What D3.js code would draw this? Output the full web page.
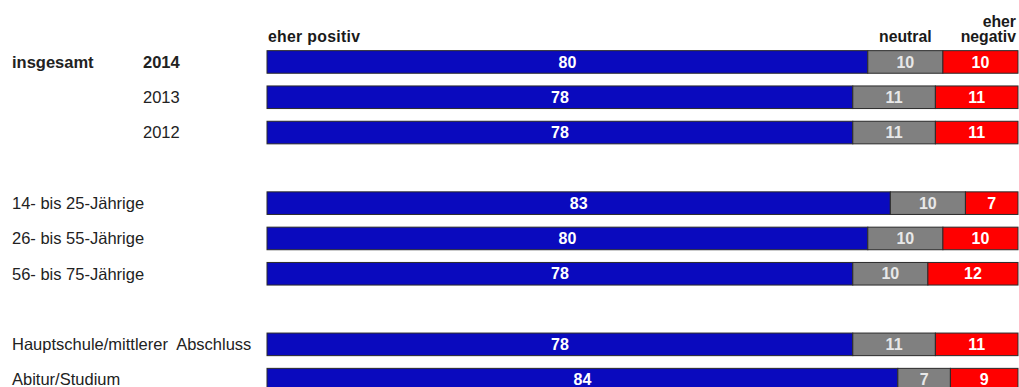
<!DOCTYPE html>
<html><head><meta charset="utf-8">
<script src="https://cdn.jsdelivr.net/npm/d3@7"></script>
<style>body{margin:0;background:#fff;}svg{display:block;font-family:Arial,"Liberation Sans",sans-serif;}</style>
</head><body><div id="chart"></div>
<script>
const groupLabels = ["insgesamt", "", "", "", "", "", "", ""];
const rowLabels = ["2014", "2013", "2012", "14- bis 25-Jährige", "26- bis 55-Jährige", "56- bis 75-Jährige", "Hauptschule/mittlerer  Abschluss", "Abitur/Studium"];
const slots = [0, 1, 2, 4, 5, 6, 8, 9];
const positiv = [80, 78, 78, 83, 80, 78, 78, 84];
const neutral = [10, 11, 11, 10, 10, 10, 11, 7];
const negativ = [10, 11, 11, 7, 10, 12, 11, 9];
const seriesNames = ["eher positiv", "neutral", "eher negativ"];
const colors = ["#0A0ABE", "#808080", "#FF0000"];
const textColors = ["#ffffff", "#e8e8e8", "#ffffff"];

const W = 1019, H = 387;
const svg = d3.select("#chart").append("svg").attr("width", W).attr("height", H);

const x = d3.scaleLinear().domain([0, 100]).range([267, 1018]);
const y = d3.scaleBand().domain(d3.range(10)).range([44.3, 397.3]).paddingInner(0.36).paddingOuter(0.18);

const rows = rowLabels.map((l, i) => ({label: l, group: groupLabels[i], slot: slots[i], vals: [positiv[i], neutral[i], negativ[i]]}));

rows.forEach((r, i) => {
  let acc = 0;
  const segs = r.vals.map((v, k) => { const s = {x0: acc, x1: acc + v, v, k}; acc += v; return s; });
  const g = svg.append("g");
  g.selectAll("rect").data(segs).join("rect")
    .attr("x", d => x(d.x0)).attr("width", d => x(d.x1) - x(d.x0))
    .attr("y", y(r.slot)).attr("height", y.bandwidth())
    .attr("fill", d => colors[d.k]).attr("stroke", "#2a2a2a").attr("stroke-width", 1);
  g.selectAll("text").data(segs).join("text")
    .attr("x", d => (x(d.x0) + x(d.x1)) / 2).attr("y", y(r.slot) + y.bandwidth() / 2)
    .attr("dy", "0.35em").attr("text-anchor", "middle")
    .attr("font-size", 16).attr("font-weight", "bold")
    .attr("fill", d => textColors[d.k]).text(d => d.v);
  const cy = y(r.slot) + y.bandwidth() / 2;
  const bold = i === 0;
  svg.append("text").attr("x", r.slot < 3 ? 143 : 12).attr("y", cy).attr("dy", "0.35em")
    .attr("font-size", 16.5).attr("font-weight", bold ? "bold" : "normal")
    .attr("fill", "#222").style("white-space", "pre").text(r.label);
  if (r.group) svg.append("text").attr("x", 12).attr("y", cy).attr("dy", "0.35em")
    .attr("font-size", 16.5).attr("font-weight", "bold").attr("fill", "#222").text(r.group);
});

// header labels
const hy = 42, hs = 15.8;
svg.append("text").attr("x", x(0) + 1).attr("y", hy).attr("font-size", hs).attr("font-weight", "bold").attr("fill", "#1a1a1a").attr("letter-spacing", 0.3).text(seriesNames[0]);
svg.append("text").attr("x", (x(positiv[0]) + x(positiv[0] + neutral[0])) / 2).attr("y", hy)
  .attr("text-anchor", "middle").attr("font-size", hs).attr("font-weight", "bold").attr("fill", "#1a1a1a").text(seriesNames[1]);
const neg = seriesNames[2].split(" ");
svg.append("text").attr("x", 1016).attr("y", hy - 15).attr("text-anchor", "end").attr("font-size", hs).attr("font-weight", "bold").attr("fill", "#1a1a1a").text(neg[0]);
svg.append("text").attr("x", 1016).attr("y", hy).attr("text-anchor", "end").attr("font-size", hs).attr("font-weight", "bold").attr("fill", "#1a1a1a").text(neg[1]);
</script></body></html>
